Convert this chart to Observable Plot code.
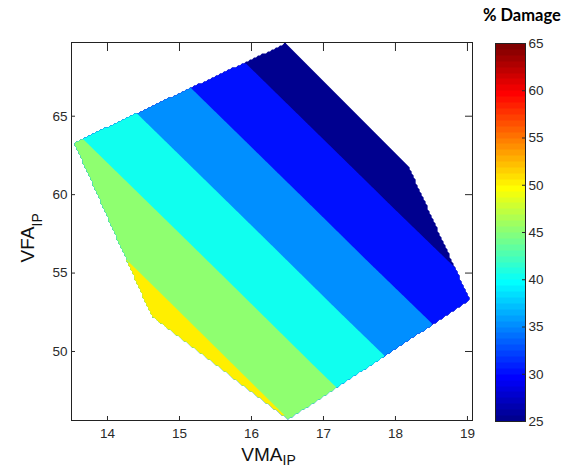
<!DOCTYPE html>
<html>
<head>
<meta charset="utf-8">
<script src="https://cdn.jsdelivr.net/npm/d3@7"></script>
<script src="https://cdn.jsdelivr.net/npm/@observablehq/plot@0.6"></script>
<style>
  body { margin: 0; background: #fff; }
  #chart { position: relative; width: 563px; height: 476px; overflow: hidden; }
  #main { position: absolute; left: 0; top: 0; }
  #bar { position: absolute; left: 480px; top: 0; }
  #title { position: absolute; left: 483px; top: 5px; font: bold 16.5px Lato, "Open Sans", sans-serif; color: #000; white-space: nowrap; }
</style>
</head>
<body>
<div id="chart">
  <div id="main"></div>
  <div id="bar"></div>
  <div id="title">% Damage</div>
</div>
<script>
// Mix samples: in-place VMA (%), in-place VFA (%) and measured damage (%)
const vma    = [13.52, 13.67, 16.47, 18.21, 19.05, 16.51, 14.60, 14.28];
const vfa    = [63.34, 63.60, 69.70, 61.68, 53.26, 45.60, 52.24, 55.68];
const damage = [45.9, 44.9, 26.2, 26.4, 31.1, 50.1, 52.1, 50.1];

// Filled contour levels and tick values
const levels   = [25, 30, 35, 40, 45, 50, 55, 60, 65];
const xTicks   = [14, 15, 16, 17, 18, 19];
const yTicks   = [50, 55, 60, 65];
const barTicks = [25, 30, 35, 40, 45, 50, 55, 60, 65];

const samples = vma.map((x, i) => ({vma: x, vfa: vfa[i], damage: damage[i]}));

// 64-step "jet" colormap
function jet64(t) {
  const row = Math.max(1, Math.min(64, Math.floor(t * 64 + 1e-9) + 1));
  const u = (k) => (k < 1 || k > 47 ? 0 : k <= 16 ? k / 16 : k <= 31 ? 1 : (48 - k) / 16);
  const r = u(row - 24), g = u(row - 8), b = u(row + 8);
  return `rgb(${Math.round(r * 255)},${Math.round(g * 255)},${Math.round(b * 255)})`;
}

// Barycentric interpolation, left blank outside the convex hull of the samples
const barycentric = Plot.interpolatorBarycentric();
function insideHull(index, width, height, X, Y, V) {
  const W = barycentric(index, width, height, X, Y, V);
  const hull = d3.polygonHull(Array.from(index, (i) => [X[i], Y[i]]));
  for (let j = 0; j < height; ++j) {
    for (let i = 0; i < width; ++i) {
      if (!d3.polygonContains(hull, [i + 0.5, j + 0.5])) W[i + j * width] = NaN;
    }
  }
  return W;
}

const colorScale = {type: "linear", domain: [25, 65], interpolate: jet64};
const font = "'Liberation Sans', Arial, Helvetica, sans-serif";

const main = Plot.plot({
  width: 480,
  height: 476,
  marginLeft: 71,
  marginRight: 8,
  marginTop: 42,
  marginBottom: 56,
  style: {fontFamily: font, fontSize: "13.5px", color: "#2a2a2a", background: "white"},
  x: {domain: [13.5, 19.07], label: null},
  y: {domain: [45.6, 69.7], label: null},
  color: colorScale,
  marks: [
    Plot.contour(samples, {
      x: "vma", y: "vfa", value: "damage", fill: "value",
      thresholds: levels, interpolate: insideHull, pixelSize: 2, stroke: "none"
    }),
    Plot.frame({stroke: "#222"}),
    Plot.axisX(xTicks, {anchor: "bottom", tickSize: -4, tickPadding: 12}),
    Plot.axisX(xTicks, {anchor: "top", tickSize: -8, tickFormat: () => ""}),
    Plot.axisY(yTicks, {anchor: "left", tickSize: -4, tickPadding: 8}),
    Plot.axisY(yTicks, {anchor: "right", tickSize: -8, tickFormat: () => ""}),
    // x-axis title with subscript
    Plot.text(["VMA"], {frameAnchor: "bottom", text: (d) => d, textAnchor: "end", lineAnchor: "bottom", dx: 10.5, dy: 40, fontSize: 19, fill: "#111"}),
    Plot.text(["IP"], {frameAnchor: "bottom", text: (d) => d, textAnchor: "start", lineAnchor: "bottom", dx: 10.5, dy: 44, fontSize: 14, fill: "#111"}),
    // y-axis title with subscript
    Plot.text(["VFA"], {frameAnchor: "left", text: (d) => d, rotate: -90, textAnchor: "end", lineAnchor: "bottom", dx: -38, dy: -5, fontSize: 19, fill: "#111"}),
    Plot.text(["IP"], {frameAnchor: "left", text: (d) => d, rotate: -90, textAnchor: "start", lineAnchor: "bottom", dx: -30, dy: -5, fontSize: 14, fill: "#111"})
  ]
});
document.getElementById("main").append(main);

// Colour bar
const bar = Plot.plot({
  width: 83,
  height: 476,
  marginLeft: 15,
  marginRight: 38,
  marginTop: 43,
  marginBottom: 55,
  style: {fontFamily: font, fontSize: "13.5px", color: "#2a2a2a", background: "white"},
  x: {domain: [0, 1], axis: null},
  y: {domain: [25, 65], label: null},
  color: colorScale,
  marks: [
    Plot.raster({fill: (x, y) => y, x1: 0, x2: 1, y1: 25, y2: 65, pixelSize: 1}),
    Plot.frame({stroke: "#222"}),
    Plot.axisY(barTicks, {anchor: "right", tickSize: -4, tickPadding: 7})
  ]
});
document.getElementById("bar").append(bar);
</script>
</body>
</html>
